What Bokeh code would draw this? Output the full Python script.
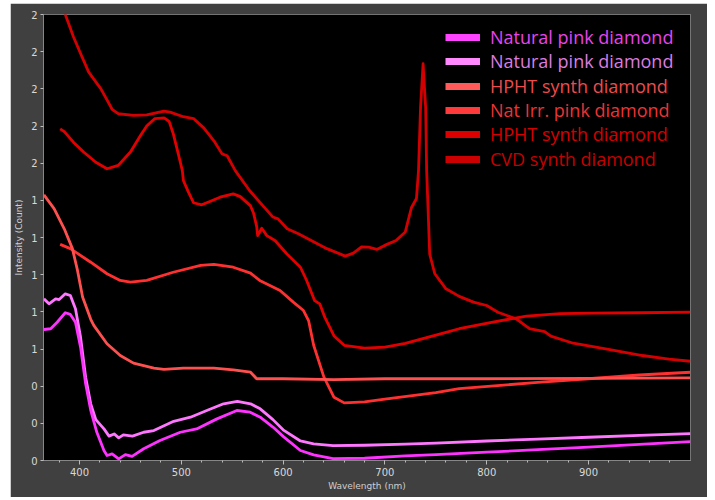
from bokeh.plotting import figure
from bokeh.models import Range1d, FixedTicker, Legend, LegendItem, Spacer
from bokeh.layouts import column, row
from bokeh.embed import file_html
from bokeh.resources import INLINE

# ---------------- data ----------------
x_tick_values = [400, 500, 600, 700, 800, 900]
y_tick_values = [0, 0.2, 0.4, 0.6, 0.8, 1.0, 1.2, 1.4, 1.6, 1.8, 2.0, 2.2, 2.4]
y_tick_labels = ["0", "0", "0", "1", "1", "1", "1", "1", "2", "2", "2", "2", "2"]

# Natural pink diamond (magenta, lower)
pink1_x = [365, 371.6, 378, 386, 391, 396, 401, 406, 411, 417, 424, 427, 432, 438.5, 445, 451.6,
           463, 479, 499, 515, 535, 554.6, 567.6, 577.5, 590, 600, 617, 630, 649, 680, 720, 750,
           800, 850, 900, 950, 1000]
pink1_y = [0.705, 0.709, 0.744, 0.795, 0.786, 0.744, 0.61, 0.413, 0.27, 0.152, 0.054, 0.027, 0.036,
           0.009, 0.032, 0.022, 0.063, 0.108, 0.152, 0.17, 0.224, 0.269, 0.26, 0.233, 0.18, 0.13,
           0.054, 0.03, 0.01, 0.012, 0.025, 0.032, 0.045, 0.058, 0.072, 0.087, 0.102]

# Natural pink diamond (light pink, upper)
pink2_x = [365, 370, 376.5, 380, 386, 391, 396, 401, 406, 411, 416, 424, 429, 434, 438.5, 443, 452,
           463, 473, 492.5, 509, 525, 541.5, 555, 568, 577.5, 590, 600, 617, 630, 649, 680, 720, 750,
           800, 850, 900, 950, 1000]
pink2_y = [0.87, 0.843, 0.87, 0.866, 0.897, 0.888, 0.816, 0.664, 0.448, 0.305, 0.22, 0.17, 0.131,
           0.143, 0.122, 0.138, 0.131, 0.152, 0.161, 0.211, 0.233, 0.269, 0.305, 0.318, 0.305, 0.278,
           0.22, 0.165, 0.105, 0.09, 0.08, 0.082, 0.088, 0.093, 0.105, 0.115, 0.125, 0.135, 0.145]

# HPHT synth diamond (salmon)
hpht1_x = [365, 375, 385, 393, 398, 403, 411, 414, 427, 440, 453, 473, 483, 502, 532, 551, 568, 574,
           580, 600, 650, 700, 800, 900, 1000]
hpht1_y = [1.43, 1.355, 1.247, 1.14, 1.023, 0.88, 0.76, 0.727, 0.628, 0.565, 0.524, 0.497, 0.49,
           0.497, 0.497, 0.488, 0.475, 0.44, 0.44, 0.44, 0.435, 0.44, 0.44, 0.442, 0.445]

# Nat Irr. pink diamond
natirr_x = [381, 391, 411, 427, 440, 450, 466, 492, 519, 532, 551, 568, 577, 597, 610, 620, 625, 630,
            640, 650, 660, 680, 700, 750, 773, 850, 900, 950, 1000]
natirr_y = [1.163, 1.14, 1.067, 1.005, 0.969, 0.96, 0.969, 1.013, 1.05, 1.055, 1.04, 1.008, 0.969,
            0.915, 0.852, 0.807, 0.753, 0.62, 0.45, 0.34, 0.31, 0.315, 0.33, 0.365, 0.387, 0.42,
            0.44, 0.46, 0.475]

# HPHT synth diamond (dark red)
hpht2_x = [381, 385, 394, 404, 416, 427, 438, 450, 460, 466, 474, 483, 488, 492, 497, 501, 502, 507,
           512, 520, 528, 538, 551, 558, 568, 571, 574, 575, 579, 584, 592, 604, 617, 623, 631, 636,
           641, 650, 660, 680, 700, 720, 740, 760, 773, 806, 839, 872, 904, 950, 1000]
hpht2_y = [1.785, 1.77, 1.713, 1.66, 1.605, 1.57, 1.588, 1.66, 1.75, 1.80, 1.84, 1.844, 1.825, 1.76,
           1.65, 1.56, 1.507, 1.444, 1.387, 1.376, 1.394, 1.417, 1.435, 1.42, 1.37, 1.33, 1.26, 1.21,
           1.25, 1.21, 1.184, 1.11, 1.04, 0.97, 0.86, 0.843, 0.77, 0.67, 0.62, 0.605, 0.61, 0.63,
           0.66, 0.69, 0.709, 0.745, 0.777, 0.79, 0.793, 0.795, 0.798]

# CVD synth diamond
cvd_x = [370, 378, 386, 394, 401, 409, 421, 432, 438, 453, 466, 483, 489, 502, 512, 522, 532, 540,
         545, 553, 567, 577, 590, 595, 604, 615, 636, 643, 661, 669, 677, 684, 692, 702, 711, 720,
         726, 731, 733, 735, 737.5, 740, 741, 744, 749, 760, 773, 787, 800, 811, 829, 842, 857, 863,
         885, 921, 953, 979, 1000]
cvd_y = [2.64, 2.52, 2.40, 2.28, 2.19, 2.09, 2.00, 1.89, 1.866, 1.857, 1.86, 1.88, 1.875, 1.85, 1.84,
         1.79, 1.72, 1.65, 1.64, 1.56, 1.453, 1.39, 1.31, 1.30, 1.247, 1.22, 1.16, 1.14, 1.10, 1.116,
         1.15, 1.148, 1.136, 1.163, 1.184, 1.23, 1.36, 1.41, 1.56, 1.9, 2.135, 1.9, 1.56, 1.11, 1.005,
         0.924, 0.883, 0.852, 0.834, 0.798, 0.762, 0.709, 0.694, 0.669, 0.631, 0.596, 0.565, 0.545,
         0.534]

labels = ["Natural pink diamond", "Natural pink diamond", "HPHT synth diamond",
          "Nat Irr. pink diamond", "HPHT synth diamond", "CVD synth diamond"]
line_colors = ["#ff33ff", "#ff77ff", "#ff5050", "#ff3030", "#e00000", "#d20000"]
bar_colors = ["#ff44ff", "#ff88ff", "#ff5a5a", "#ff3a3a", "#dd0000", "#cc0000"]
text_colors = ["#e844ee", "#dc7ce0", "#ec4c4c", "#ec3434", "#d40000", "#c40000"]

series = [(pink1_x, pink1_y), (pink2_x, pink2_y), (hpht1_x, hpht1_y),
          (natirr_x, natirr_y), (hpht2_x, hpht2_y), (cvd_x, cvd_y)]

# ---------------- figure ----------------
p = figure(width=697, height=494, x_range=Range1d(364.6, 1000.2), y_range=Range1d(0, 2.4),
           output_backend="svg", toolbar_location=None,
           min_border_left=33, min_border_right=17, min_border_top=11, min_border_bottom=37,
           background_fill_color="black", border_fill_color="#404040",
           outline_line_color="#9a9a9a", outline_line_dash="1 1")
p.xgrid.visible = False
p.ygrid.visible = False

# draw back-to-front so pinks on top
for i in [5, 4, 3, 2, 1, 0]:
    xs, ys = series[i]
    p.line(xs, ys, line_color=line_colors[i], line_width=2.8, line_join="round")

# axes
p.xaxis.ticker = FixedTicker(ticks=x_tick_values, minor_ticks=list(range(380, 1000, 20)))
p.yaxis.ticker = FixedTicker(ticks=y_tick_values)
p.yaxis.major_label_overrides = dict(zip(y_tick_values, y_tick_labels))
p.xaxis.axis_label = "Wavelength (nm)"
p.yaxis.axis_label = "Intensity (Count)"

for ax in (p.xaxis[0], p.yaxis[0]):
    ax.axis_line_color = "#9a9a9a"
    ax.axis_line_dash = "1 1"
    ax.major_tick_line_color = "#bbbbbb"
    ax.minor_tick_line_color = "#bbbbbb"
    ax.major_tick_in = 0
    ax.minor_tick_in = 0
    ax.major_label_text_color = "#d8d8d8"
    ax.major_label_text_font = "DejaVu Sans"
    ax.major_label_text_font_size = "10px"
    ax.axis_label_text_color = "#cfcfcf"
    ax.axis_label_text_font = "DejaVu Sans"
    ax.axis_label_text_font_size = "9px"
    ax.axis_label_text_font_style = "normal"

p.xaxis.major_tick_out = 4
p.xaxis.minor_tick_out = 2
p.xaxis.major_label_standoff = 3
p.xaxis.axis_label_standoff = 2
p.yaxis.major_tick_out = 3
p.yaxis.minor_tick_out = 0
p.yaxis.major_label_standoff = 3
p.yaxis.axis_label_standoff = 4

# legends: one per entry so each label can take its own colour
frame_left, frame_bottom = 43, 460
for i in range(6):
    xs, ys = series[i]
    proxy = p.line(xs, ys, line_color=bar_colors[i], line_width=7, visible=False)
    yc = 37 + 24.3 * i
    leg = Legend(items=[LegendItem(label=labels[i], renderers=[proxy])],
                 location=(445 - frame_left, frame_bottom - yc - 13),
                 padding=0, margin=0, spacing=0,
                 glyph_width=35, glyph_height=26, label_height=26, label_standoff=10,
                 label_text_font="Open Sans", label_text_font_size="18px",
                 label_text_color=text_colors[i],
                 inactive_fill_alpha=0, click_policy="none",
                 border_line_color=None, background_fill_alpha=0)
    p.add_layout(leg)

layout = column(Spacer(height=3), row(Spacer(width=10), p))
open("out.html", "w").write(file_html(layout, INLINE))
